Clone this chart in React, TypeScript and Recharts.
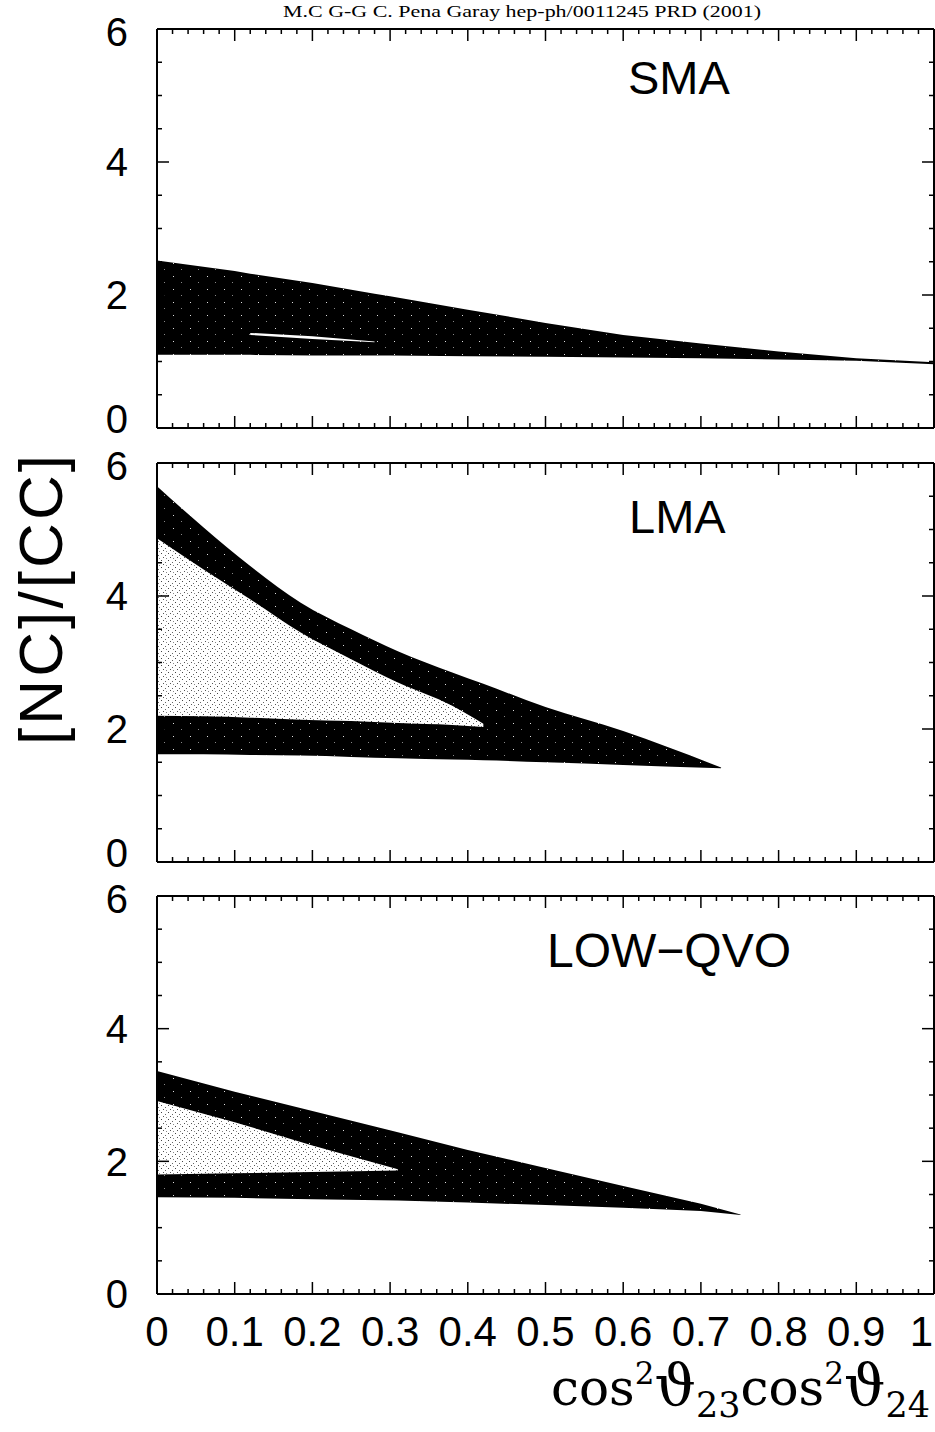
import React from 'react'
import { ComposedChart, Area, XAxis, YAxis } from 'recharts'

// tick positions
const xTicks = [
  0, 0.02, 0.04, 0.06, 0.08, 0.1, 0.12, 0.14, 0.16, 0.18, 0.2, 0.22, 0.24, 0.26, 0.28, 0.3,
  0.32, 0.34, 0.36, 0.38, 0.4, 0.42, 0.44, 0.46, 0.48, 0.5, 0.52, 0.54, 0.56, 0.58, 0.6,
  0.62, 0.64, 0.66, 0.68, 0.7, 0.72, 0.74, 0.76, 0.78, 0.8, 0.82, 0.84, 0.86, 0.88, 0.9,
  0.92, 0.94, 0.96, 0.98, 1,
]
const yTicks = [0, 0.5, 1, 1.5, 2, 2.5, 3, 3.5, 4, 4.5, 5, 5.5, 6]

// SMA panel
const smaX = [0, 0.1, 0.12, 0.2, 0.28, 0.3, 0.4, 0.5, 0.6, 0.7, 0.8, 0.9, 1]
const smaHigh = [2.52, 2.36, 2.32, 2.18, 2.02, 1.98, 1.78, 1.58, 1.4, 1.27, 1.15, 1.05, 0.99]
const smaLow = [1.1, 1.1, 1.1, 1.09, 1.09, 1.09, 1.08, 1.07, 1.06, 1.05, 1.03, 1.01, 0.96]
const smaGapHigh = [null, null, 1.43, 1.38, 1.3, null, null, null, null, null, null, null, null]
const smaGapLow = [null, null, 1.4, 1.34, 1.29, null, null, null, null, null, null, null, null]

// LMA panel
const lmaX = [0, 0.06, 0.12, 0.185, 0.25, 0.31, 0.38, 0.42, 0.5, 0.6, 0.726]
const lmaHigh = [5.65, 5.03, 4.45, 3.9, 3.5, 3.17, 2.85, 2.68, 2.33, 1.97, 1.42]
const lmaLow = [1.62, 1.62, 1.61, 1.6, 1.58, 1.56, 1.54, 1.53, 1.5, 1.46, 1.41]
const lmaFillHigh = [4.87, 4.4, 3.95, 3.45, 3.05, 2.7, 2.35, 2.08, null, null, null]
const lmaFillLow = [2.2, 2.19, 2.17, 2.14, 2.12, 2.09, 2.06, 2.03, null, null, null]

// LOW-QVO panel
const qvoX = [0, 0.1, 0.2, 0.31, 0.4, 0.5, 0.6, 0.7, 0.751]
const qvoHigh = [3.36, 3.05, 2.76, 2.44, 2.17, 1.9, 1.63, 1.36, 1.2]
const qvoLow = [1.46, 1.45, 1.43, 1.41, 1.38, 1.34, 1.3, 1.25, 1.19]
const qvoFillHigh = [2.91, 2.59, 2.24, 1.88, null, null, null, null, null]
const qvoFillLow = [1.8, 1.82, 1.84, 1.86, null, null, null, null, null]

const pair = (lo: (number | null)[], hi: (number | null)[], i: number) =>
  lo[i] == null || hi[i] == null ? null : [lo[i], hi[i]]

const smaRows = smaX.map((x, i) => ({
  x,
  band: pair(smaLow, smaHigh, i),
  gap: pair(smaGapLow, smaGapHigh, i),
}))
const lmaRows = lmaX.map((x, i) => ({
  x,
  band: pair(lmaLow, lmaHigh, i),
  fill: pair(lmaFillLow, lmaFillHigh, i),
}))
const qvoRows = qvoX.map((x, i) => ({
  x,
  band: pair(qvoLow, qvoHigh, i),
  fill: pair(qvoFillLow, qvoFillHigh, i),
}))

const SANS = "'Liberation Sans', Arial, Helvetica, sans-serif"
const SERIF = "'DejaVu Serif', 'Liberation Serif', serif"

const near = (v: number, step: number) => Math.abs(v / step - Math.round(v / step)) < 1e-6
const fmt = (v: number) => (v === 0 ? '0' : v === 1 ? '1' : v.toFixed(1))

function BottomTick(props: any) {
  const { x, y, payload, showLabel } = props
  const v = payload.value
  const major = near(v, 0.1)
  // last label sits against the page edge, keep it inside
  const last = v === 1
  return (
    <g>
      <line x1={x} x2={x} y1={y} y2={y - (major ? 12 : 5)} stroke="#000" strokeWidth={1.5} />
      {showLabel && major && (
        <text
          x={last ? x - 1 : x}
          y={y + 52}
          textAnchor={last ? 'end' : 'middle'}
          fontSize={42}
          fontFamily={SANS}
          fill="#000"
        >
          {fmt(v)}
        </text>
      )}
    </g>
  )
}

function TopTick(props: any) {
  const { x, y, payload } = props
  const major = near(payload.value, 0.1)
  return <line x1={x} x2={x} y1={y} y2={y + (major ? 12 : 5)} stroke="#000" strokeWidth={1.5} />
}

function LeftTick(props: any) {
  const { x, y, payload, lastPanel } = props
  const v = payload.value
  const major = near(v, 2)
  // keep the 0 of a panel clear of the 6 of the panel below
  const shift = v === 0 && !lastPanel ? -9 : v === 6 ? 3 : 0
  return (
    <g>
      <line x1={x} x2={x + (major ? 12 : 5)} y1={y} y2={y} stroke="#000" strokeWidth={1.5} />
      {major && (
        <text x={x - 29} y={y + shift} dy="0.36em" textAnchor="end" fontSize={40} fontFamily={SANS} fill="#000">
          {v}
        </text>
      )}
    </g>
  )
}

function RightTick(props: any) {
  const { x, y, payload } = props
  const major = near(payload.value, 2)
  return <line x1={x} x2={x - (major ? 12 : 5)} y1={y} y2={y} stroke="#000" strokeWidth={1.5} />
}

const frame = { stroke: '#000', strokeWidth: 2 }

function Panel({ rows, top, height, bottom, lastPanel, curve, children }: any) {
  return (
    <div style={{ position: 'absolute', left: 0, top }}>
      <ComposedChart
        width={935}
        height={height}
        data={rows}
        margin={{ top: 29, right: 0, bottom, left: 0 }}
      >
        <XAxis
          xAxisId="b"
          dataKey="x"
          type="number"
          domain={[0, 1]}
          ticks={xTicks}
          interval={0}
          height={1}
          tickSize={0}
          tickMargin={0}
          tickLine={false}
          axisLine={frame}
          allowDataOverflow
          tick={(p: any) => <BottomTick {...p} showLabel={lastPanel} />}
        />
        <XAxis
          xAxisId="t"
          orientation="top"
          dataKey="x"
          type="number"
          domain={[0, 1]}
          ticks={xTicks}
          interval={0}
          height={1}
          tickSize={0}
          tickMargin={0}
          tickLine={false}
          axisLine={frame}
          allowDataOverflow
          tick={(p: any) => <TopTick {...p} />}
        />
        <YAxis
          yAxisId="l"
          type="number"
          domain={[0, 6]}
          ticks={yTicks}
          interval={0}
          width={157}
          tickSize={0}
          tickMargin={0}
          tickLine={false}
          axisLine={frame}
          allowDataOverflow
          tick={(p: any) => <LeftTick {...p} lastPanel={lastPanel} />}
        />
        <YAxis
          yAxisId="r"
          orientation="right"
          type="number"
          domain={[0, 6]}
          ticks={yTicks}
          interval={0}
          width={1}
          tickSize={0}
          tickMargin={0}
          tickLine={false}
          axisLine={frame}
          allowDataOverflow
          tick={(p: any) => <RightTick {...p} />}
        />
        <Area
          xAxisId="b"
          yAxisId="l"
          type={curve}
          dataKey="band"
          stroke="none"
          fill="url(#dark)"
          fillOpacity={1}
          isAnimationActive={false}
        />
        {children}
      </ComposedChart>
    </div>
  )
}

export default function App() {
  return (
    <div
      style={{
        position: 'absolute',
        left: 0,
        top: 0,
        width: 935,
        height: 1432,
        background: '#fff',
        overflow: 'hidden',
      }}
    >
      <svg width={0} height={0} style={{ position: 'absolute' }}>
        <defs>
          <pattern id="dark" width={17} height={13} patternUnits="userSpaceOnUse">
            <rect width={17} height={13} fill="#000" />
            <rect x={3} y={4} width={1} height={1} fill="#ddd" />
            <rect x={11} y={10} width={1} height={1} fill="#888" />
          </pattern>
          <pattern id="stipple" width={7} height={7} patternUnits="userSpaceOnUse">
            <rect width={7} height={7} fill="#fff" />
            <rect x={0} y={1} width={1} height={1} fill="#444" />
            <rect x={4} y={3} width={1} height={1} fill="#666" />
            <rect x={2} y={5} width={1} height={1} fill="#555" />
            <rect x={5} y={6} width={1} height={1} fill="#888" />
          </pattern>
        </defs>
      </svg>

      <Panel rows={smaRows} top={-1} height={455} bottom={25} lastPanel={false} curve="linear">
        <Area
          xAxisId="b"
          yAxisId="l"
          type="linear"
          dataKey="gap"
          stroke="none"
          fill="#fff"
          fillOpacity={1}
          isAnimationActive={false}
        />
      </Panel>
      <Panel rows={lmaRows} top={433} height={455} bottom={25} lastPanel={false} curve="monotone">
        <Area
          xAxisId="b"
          yAxisId="l"
          type="monotone"
          dataKey="fill"
          stroke="none"
          fill="url(#stipple)"
          fillOpacity={1}
          isAnimationActive={false}
        />
      </Panel>
      <Panel rows={qvoRows} top={866} height={499} bottom={70} lastPanel curve="linear">
        <Area
          xAxisId="b"
          yAxisId="l"
          type="linear"
          dataKey="fill"
          stroke="none"
          fill="url(#stipple)"
          fillOpacity={1}
          isAnimationActive={false}
        />
      </Panel>

      <svg
        width={935}
        height={1432}
        style={{ position: 'absolute', left: 0, top: 0, pointerEvents: 'none' }}
      >
        <text x={283} y={17} fontSize={17} fontFamily="'Liberation Serif', serif" textLength={478} lengthAdjust="spacingAndGlyphs">
          M.C G-G C. Pena Garay hep-ph/0011245 PRD (2001)
        </text>
        <text x={628} y={94} fontSize={47} fontFamily={SANS}>SMA</text>
        <text x={629} y={533} fontSize={47} fontFamily={SANS}>LMA</text>
        <text x={547} y={967} fontSize={48} fontFamily={SANS}>LOW−QVO</text>
        <text
          transform="translate(40,600) rotate(-90)"
          textAnchor="middle"
          dominantBaseline="central"
          fontSize={62}
          fontFamily={SANS}
          textLength={290}
          lengthAdjust="spacing"
        >
          [NC]/[CC]
        </text>
        <text x={930} y={1405} textAnchor="end" fontSize={50} fontFamily={SERIF}>
          cos
          <tspan fontSize={31} dy={-21}>2</tspan>
          <tspan fontSize={58} dy={21}>ϑ</tspan>
          <tspan fontSize={35} dy={12}>23</tspan>
          <tspan dy={-12}>cos</tspan>
          <tspan fontSize={31} dy={-21}>2</tspan>
          <tspan fontSize={58} dy={21}>ϑ</tspan>
          <tspan fontSize={35} dy={12}>24</tspan>
        </text>
      </svg>
    </div>
  )
}
